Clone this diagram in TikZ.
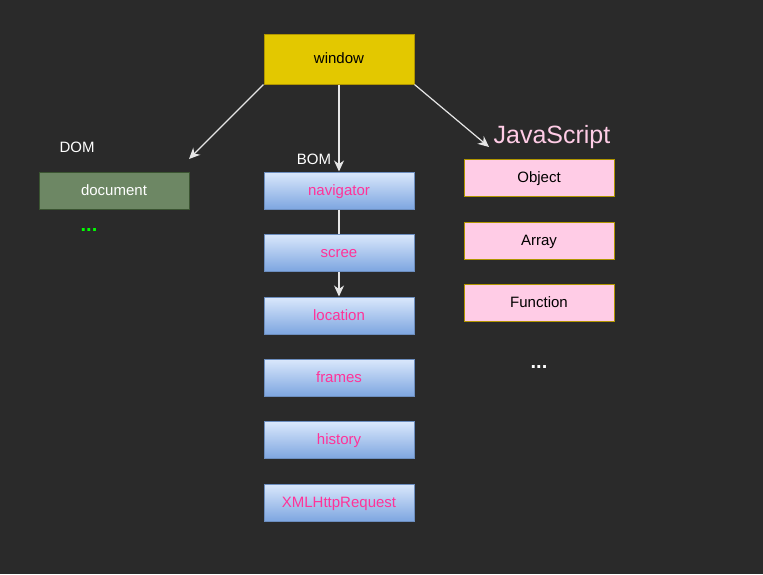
\documentclass[tikz,border=0pt]{standalone}
\usepackage{fontspec}
\setmainfont{Liberation Sans}
\usetikzlibrary{arrows.meta}
\definecolor{bg}{HTML}{2A2A2A}
\definecolor{winfill}{HTML}{E3C800}
\definecolor{winline}{HTML}{B09500}
\definecolor{docfill}{HTML}{6D8764}
\definecolor{docline}{HTML}{3A5431}
\definecolor{bomtop}{HTML}{DAE8FC}
\definecolor{bombot}{HTML}{7EA6E0}
\definecolor{bomline}{HTML}{6C8EBF}
\definecolor{bomtext}{HTML}{FF3399}
\definecolor{jsfill}{HTML}{FFCCE6}
\definecolor{jsline}{HTML}{B09500}
\definecolor{arrowc}{HTML}{E6E6E6}
\definecolor{dotgreen}{HTML}{00FF00}
\tikzset{
  box/.style={minimum width=150pt,inner sep=0pt,font=\fontsize{15}{17}\selectfont,line width=1pt,text height=9pt,text depth=0pt},
  winbox/.style={box,minimum height=50pt,fill=winfill,draw=winline,text=black},
  docbox/.style={box,minimum height=37pt,fill=docfill,draw=docline,text=white},
  bombox/.style={box,minimum height=37pt,top color=bomtop,bottom color=bombot,draw=bomline,text=bomtext},
  jsbox/.style={box,minimum height=37pt,fill=jsfill,draw=jsline,text=black},
  lbl/.style={text=white,font=\fontsize{15}{17}\selectfont,inner sep=0pt,text height=11pt,text depth=0pt},
  dots/.style={font=\bfseries\fontsize{20}{22}\selectfont,inner sep=0pt,text height=2pt,text depth=0pt},
  conn/.style={draw=arrowc,line width=1.2pt},
  arr/.style={conn,-{Stealth[length=11pt,width=10pt,inset=3.5pt]}},
}
\begin{document}
\begin{tikzpicture}[x=1pt,y=-1pt]
\fill[bg] (0,0) rectangle (763,574);
\useasboundingbox (0,0) rectangle (763,574);
\node[winbox] (window) at (339,59) {window};
\node[docbox] (document) at (114,190.5) {document};
\node[lbl] (dom) at (77,147) {DOM};
\node[dots,text=dotgreen] (domdots) at (89,230) {...};
\node[lbl] (bom) at (314,159) {BOM};
\node[bombox] (navigator) at (339,190.5) {navigator};
\node[bombox] (scree) at (339,252.5) {scree};
\node[bombox] (location) at (339,315.5) {location};
\node[bombox] (frames) at (339,377.5) {frames};
\node[bombox] (history) at (339,440) {history};
\node[bombox] (xhr) at (339,502.5) {XMLHttpRequest};
\node[text=jsfill,font=\fontsize{25}{28}\selectfont,inner sep=0pt,text height=18pt,text depth=0pt] (js) at (552,134) {JavaScript};
\node[jsbox] (object) at (539,177.5) {Object};
\node[jsbox] (array) at (539,240.5) {Array};
\node[jsbox] (function) at (539,302.5) {Function};
\node[dots,text=white] (jsdots) at (539,367) {...};
\coordinate (domend) at (189,159);
\coordinate (jsend) at (489,147);
\draw[arr] (window.south west) -- (domend);
\draw[arr] (window.south) -- (navigator.north);
\draw[arr] (window.south east) -- (jsend);
\draw[conn] (navigator.south) -- (scree.north);
\draw[arr] (scree.south) -- (location.north);
\end{tikzpicture}
\end{document}
